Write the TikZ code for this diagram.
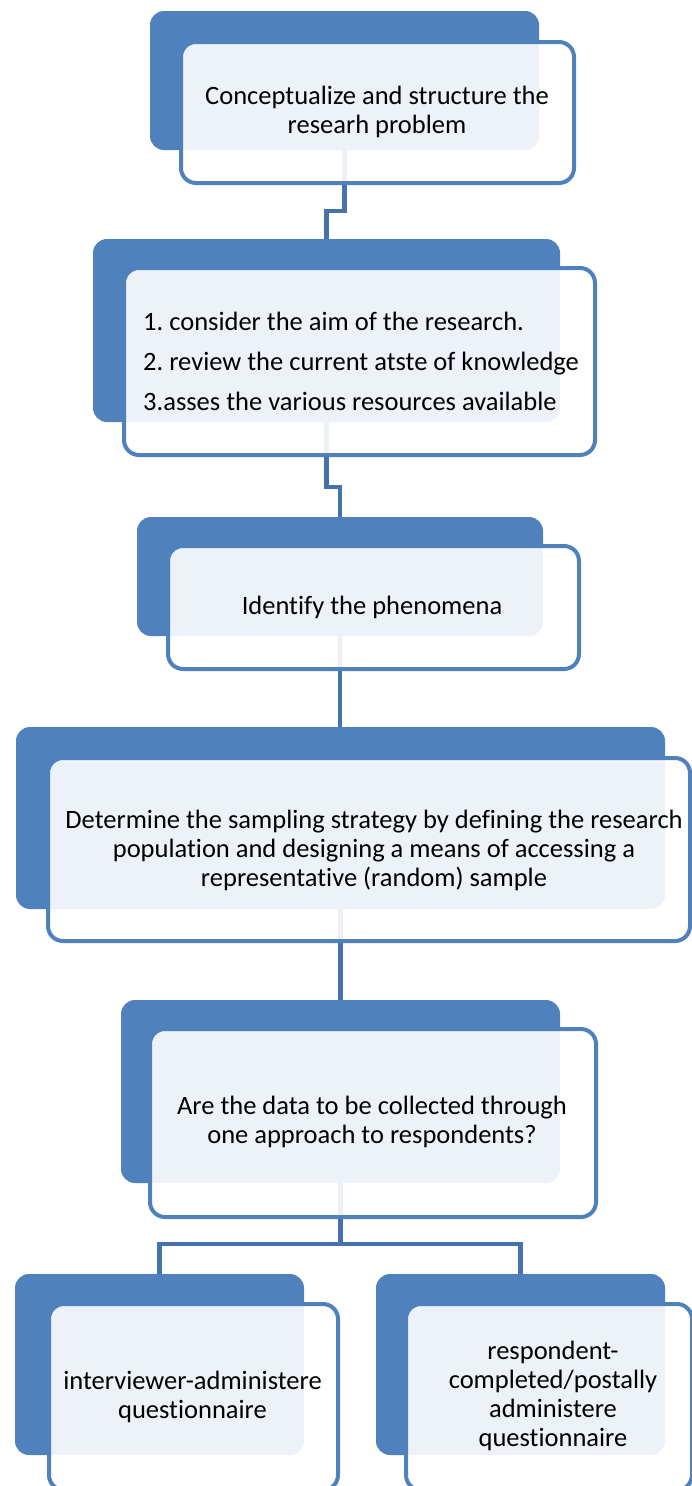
\documentclass[tikz,border=0pt]{standalone}
\usepackage{fontspec}
\setmainfont{Carlito}[Ligatures={NoCommon}]
\frenchspacing
\usetikzlibrary{calc}
\definecolor{accent}{HTML}{4F81BD}
\definecolor{linkblue}{HTML}{4672AB}
\begin{document}
\begin{tikzpicture}[x=1pt,y=-1pt,
  backbox/.style={rectangle,rounded corners=14pt,fill=accent,draw=none,inner sep=0pt,outer sep=0pt},
  frontbox/.style={rectangle,rounded corners=15pt,fill=white,fill opacity=0.9,draw=accent,line width=4pt,inner sep=0pt,outer sep=0pt},
  label/.style={inner sep=0pt,text=black,align=center,font=\fontsize{26.5}{29}\selectfont},
  link/.style={draw=linkblue,line width=4.5pt}]
\useasboundingbox (0,0) rectangle (692,1486);
\clip (0,0) rectangle (692,1486);

% back panels
\node[backbox,minimum width=389pt,minimum height=139pt] (b1) at (344.5,80.5) {};
\node[backbox,minimum width=467pt,minimum height=183pt] (b2) at (326.5,330.5) {};
\node[backbox,minimum width=406pt,minimum height=119pt] (b3) at (340,576.5) {};
\node[backbox,minimum width=649pt,minimum height=182pt] (b4) at (340.5,818) {};
\node[backbox,minimum width=439pt,minimum height=183pt] (b5) at (340.5,1091.5) {};
\node[backbox,minimum width=289pt,minimum height=181pt] (b6) at (159.5,1364.5) {};
\node[backbox,minimum width=289pt,minimum height=181pt] (b7) at (520.5,1364.5) {};

% centres of the front frames
\path (377.5,112.5) coordinate (f1c) (359.5,361.5) coordinate (f2c)
      (373.5,607.5) coordinate (f3c) (369,849.5) coordinate (f4c)
      (373,1123) coordinate (f5c) (193.5,1397) coordinate (f6c)
      (549,1397) coordinate (f7c);
\coordinate (m12) at (0,211);
\coordinate (m23) at (0,487);
\coordinate (m56) at (0,1244);

% connectors
\draw[link] (b1.south) -- (b1.south |- m12) -| (b2.north);
\draw[link] (b2.south) -- (b2.south |- m23) -| (b3.north);
\draw[link] (b3.south) -- (b3.south |- b4.north);
\draw[link] (b4.south) -- (b4.south |- b5.north);
\draw[link] (b5.south) -- (b5.south |- m56) -| (b6.north);
\draw[link] (b5.south |- m56) -| (b7.north);

% front frames
\node[frontbox,minimum width=393pt,minimum height=141pt] (f1) at (f1c) {};
\node[frontbox,minimum width=471pt,minimum height=187pt] (f2) at (f2c) {};
\node[frontbox,minimum width=411pt,minimum height=123pt] (f3) at (f3c) {};
\node[frontbox,minimum width=642pt,minimum height=183pt] (f4) at (f4c) {};
\node[frontbox,minimum width=446pt,minimum height=188pt] (f5) at (f5c) {};
\node[frontbox,minimum width=289pt,minimum height=186pt] (f6) at (f6c) {};
\node[frontbox,minimum width=286pt,minimum height=186pt] (f7) at (f7c) {};

% texts
\node[label] (t1) at (377,112) {Conceptualize and structure the\\researh problem};
\node[label,align=left,anchor=west,font=\fontsize{26.5}{40}\selectfont] (t2) at (143,361)
  {1. consider the aim of the research.\\2. review the current atste of knowledge\\3.asses the various resources available};
\node[label] (t3) at (372,607) {Identify the phenomena};
\node[label] (t4) at (374,850) {Determine the sampling strategy by defining the research\\population and designing a means of accessing a\\representative (random) sample};
\node[label] (t5) at (372,1122) {Are the data to be collected through\\one approach to respondents?};
\node[label] (t6) at (192.5,1397) {interviewer-administere\\questionnaire};
\node[label] (t7) at (553,1396) {respondent-\\completed/postally\\administere\\questionnaire};
\end{tikzpicture}
\end{document}
